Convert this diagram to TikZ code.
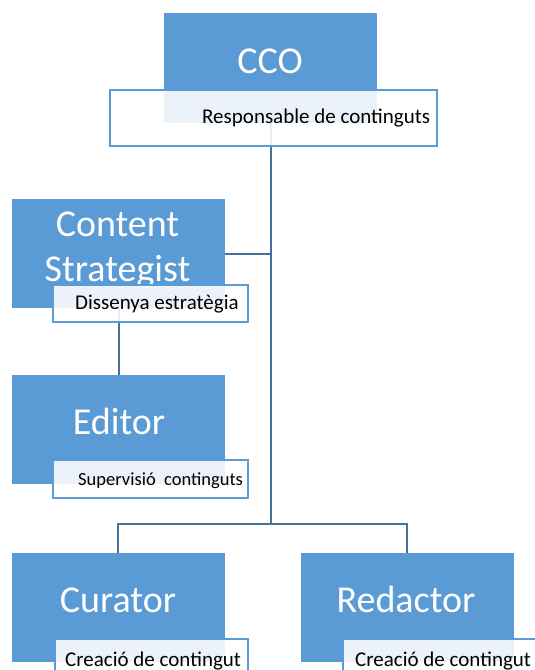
\documentclass[tikz,border=0pt]{standalone}
\usepackage{fontspec}
\setmainfont{Carlito}
\definecolor{boxblue}{RGB}{91,155,213}
\definecolor{lineblue}{RGB}{65,113,156}
\begin{document}
\begin{tikzpicture}[x=1pt,y=-1pt,
  rolebox/.style={rectangle,fill=boxblue,draw=none,inner sep=0pt,minimum width=213pt,minimum height=109pt},
  descbox/.style={rectangle,fill=white,fill opacity=0.88,draw=boxblue,draw opacity=1,line width=1.6pt,inner sep=0pt,minimum width=195pt,minimum height=37pt},
  bigtext/.style={text=white,inner sep=0pt,anchor=base,font=\fontsize{38}{45}\selectfont},
  smalltext/.style={text=black,inner sep=0pt,anchor=base west,font=\fontsize{21}{25}\selectfont},
  conn/.style={draw=lineblue,line width=2pt}]
\useasboundingbox (0,0) rectangle (535,670);
% coordinates for connectors
\coordinate (ccoS) at (271,123);
\coordinate (busC) at (271,524);
\coordinate (csJ) at (271,254);
\coordinate (busL) at (118,524);
\coordinate (busR) at (407,524);
% role boxes
\node[rolebox,minimum height=110pt] (cco) at (270.5,68) {};
\node[rolebox] (cs) at (118.5,253.5) {};
\node[rolebox] (ed) at (118.5,429.5) {};
\node[rolebox] (cur) at (118.5,607.5) {};
\node[rolebox] (red) at (407.5,607.5) {};
% connectors (behind boxes)
\begin{scope}[on background layer/.try]
\end{scope}
\draw[conn] (ccoS) -- (busC);
\draw[conn] (cs.east |- csJ) -- (csJ);
\draw[conn] (cs.south) -- (ed.north);
\draw[conn] (cur.north -| busL) -- (busL) -- (busR) -- (red.north -| busR);
% role labels
\node[bigtext] (tcco) at (270,73) {CCO};
\node[bigtext] (tcs1) at (117.5,236) {Content};
\node[bigtext] (tcs2) at (117.5,281) {Strategist};
\node[bigtext] (ted) at (119,434) {Editor};
\node[bigtext] (tcur) at (118,612) {Curator};
\node[bigtext] (tred) at (406,612) {Redactor};
% description boxes
\node[descbox,minimum width=327pt,minimum height=56pt] (dcco) at (273.5,118) {};
\node[descbox] (dcs) at (150.5,303.5) {};
\node[descbox,minimum height=38pt] (ded) at (150.5,479) {};
\node[descbox,minimum width=193pt,minimum height=38pt] (dcur) at (151.5,658) {};
\node[descbox,minimum height=38pt] (dred) at (440.5,658) {};
% description texts
\node[smalltext] (scco) at (202,123.5) {Responsable de continguts};
\node[smalltext] (scs) at (75,309) {Dissenya estratègia};
\node[smalltext,font=\fontsize{18.5}{22}\selectfont] (sed) at (78,485) {Supervisió~~continguts};
\node[smalltext] (scur) at (65,666) {Creació de contingut};
\node[smalltext] (sred) at (355,666) {Creació de contingut};
\end{tikzpicture}
\end{document}
